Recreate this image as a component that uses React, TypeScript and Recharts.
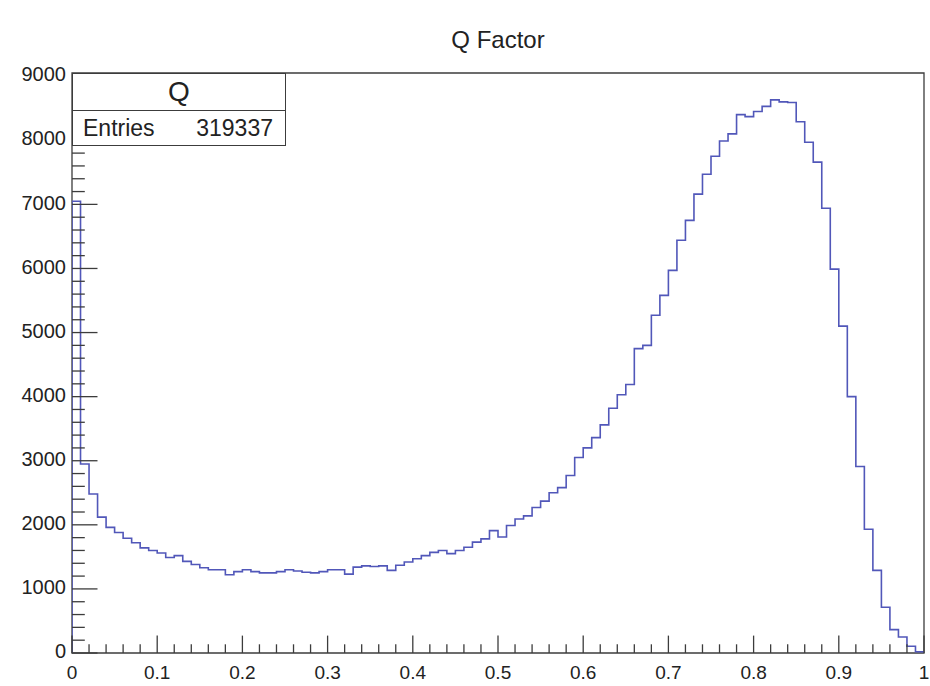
import React from "react";
import { ComposedChart, Line, XAxis, YAxis, ReferenceArea } from "recharts";

// Histogram definition: 100 bins from 0 to 1
const nBins = 100;
const xMin = 0;
const xMax = 1;

const binCounts = [
  7050, 2950, 2480, 2120, 1960, 1880, 1790, 1720, 1640, 1600,
  1560, 1490, 1520, 1430, 1380, 1330, 1300, 1300, 1220, 1270,
  1300, 1270, 1250, 1250, 1270, 1300, 1280, 1260, 1250, 1270,
  1300, 1300, 1230, 1340, 1360, 1350, 1360, 1290, 1370, 1420,
  1470, 1520, 1570, 1600, 1550, 1600, 1650, 1730, 1780, 1910,
  1810, 1990, 2090, 2140, 2270, 2370, 2500, 2580, 2770, 3050,
  3200, 3360, 3560, 3820, 4030, 4190, 4750, 4800, 5270, 5580,
  5970, 6440, 6750, 7160, 7470, 7750, 7990, 8100, 8400, 8370,
  8450, 8530, 8630, 8600, 8590, 8290, 7970, 7660, 6940, 5990,
  5100, 4000, 2910, 1930, 1290, 715, 365, 250, 105, 20,
];

const xMajorTicks = [0, 0.1, 0.2, 0.3, 0.4, 0.5, 0.6, 0.7, 0.8, 0.9, 1];
const xTickLabels = ["0", "0.1", "0.2", "0.3", "0.4", "0.5", "0.6", "0.7", "0.8", "0.9", "1"];
const xAllTicks = [
  0, 0.02, 0.04, 0.06, 0.08, 0.1, 0.12, 0.14, 0.16, 0.18,
  0.2, 0.22, 0.24, 0.26, 0.28, 0.3, 0.32, 0.34, 0.36, 0.38,
  0.4, 0.42, 0.44, 0.46, 0.48, 0.5, 0.52, 0.54, 0.56, 0.58,
  0.6, 0.62, 0.64, 0.66, 0.68, 0.7, 0.72, 0.74, 0.76, 0.78,
  0.8, 0.82, 0.84, 0.86, 0.88, 0.9, 0.92, 0.94, 0.96, 0.98, 1,
];

const yMajorTicks = [0, 1000, 2000, 3000, 4000, 5000, 6000, 7000, 8000, 9000];
const yTickLabels = ["0", "1000", "2000", "3000", "4000", "5000", "6000", "7000", "8000", "9000"];
const yAllTicks = [
  0, 200, 400, 600, 800, 1000, 1200, 1400, 1600, 1800,
  2000, 2200, 2400, 2600, 2800, 3000, 3200, 3400, 3600, 3800,
  4000, 4200, 4400, 4600, 4800, 5000, 5200, 5400, 5600, 5800,
  6000, 6200, 6400, 6600, 6800, 7000, 7200, 7400, 7600, 7800,
  8000, 8200, 8400, 8600, 8800, 9000,
];
const yMax = 9050;

const title = "Q Factor";
const statsName = "Q";
const statsEntriesLabel = "Entries";
const statsEntries = "319337";

// outline points at bin edges
const data: { x: number; y: number }[] = [{ x: xMin, y: 0 }];
binCounts.forEach((c, i) => {
  data.push({ x: xMin + ((xMax - xMin) * i) / nBins, y: c });
});
data.push({ x: xMax, y: binCounts[nBins - 1] });
data.push({ x: xMax, y: 0 });

const FONT = "'Liberation Sans', Arial, Helvetica, sans-serif";
const AXIS_COLOR = "#3c3c3c";
const LINE_COLOR = "#5157b9";

const XTick = (props: any) => {
  const { x, y, payload } = props;
  const v = payload.value;
  const idx = xMajorTicks.findIndex((t) => Math.abs(t - v) < 1e-9);
  const major = idx >= 0;
  return (
    <g>
      <line x1={x} x2={x} y1={y} y2={y - (major ? 17.4 : 8.7)} stroke={AXIS_COLOR} strokeWidth={1.3} />
      {major && (
        <text x={x} y={y + 26} textAnchor="middle" fontSize={19} fontFamily={FONT} fill="#222">
          {xTickLabels[idx]}
        </text>
      )}
    </g>
  );
};

const YTick = (props: any) => {
  const { x, y, payload } = props;
  const v = payload.value;
  const idx = yMajorTicks.findIndex((t) => Math.abs(t - v) < 1e-9);
  const major = idx >= 0;
  return (
    <g>
      <line x1={x} x2={x + (major ? 25.5 : 12.8)} y1={y} y2={y} stroke={AXIS_COLOR} strokeWidth={1.3} />
      {major && (
        <text x={x - 6} y={y - 2} dy="0.36em" textAnchor="end" fontSize={20} fontFamily={FONT} fill="#222">
          {yTickLabels[idx]}
        </text>
      )}
    </g>
  );
};

export default function App() {
  return (
    <div style={{ position: "absolute", left: 0, top: 0, width: 930, height: 686, background: "#fff", fontFamily: FONT }}>
      <ComposedChart
        width={930}
        height={686}
        data={data}
        margin={{ top: 73, right: 6, bottom: 0, left: 0 }}
      >
        <XAxis
          type="number"
          dataKey="x"
          domain={[xMin, xMax]}
          ticks={xAllTicks}
          interval={0}
          tick={<XTick />}
          tickLine={false}
          axisLine={false}
          tickSize={0}
          tickMargin={0}
          height={33}
          allowDataOverflow
        />
        <YAxis
          type="number"
          domain={[0, yMax]}
          ticks={yAllTicks}
          interval={0}
          tick={<YTick />}
          tickLine={false}
          axisLine={false}
          tickSize={0}
          tickMargin={0}
          width={72}
          allowDataOverflow
        />
        <Line
          type="stepAfter"
          dataKey="y"
          stroke={LINE_COLOR}
          strokeWidth={1.6}
          dot={false}
          activeDot={false}
          isAnimationActive={false}
        />
        <ReferenceArea x1={xMin} x2={xMax} y1={0} y2={yMax} fill="none" stroke={AXIS_COLOR} strokeWidth={1.3} ifOverflow="visible" />
      </ComposedChart>
      <div
        style={{
          position: "absolute",
          left: 0,
          top: 26,
          width: 996,
          textAlign: "center",
          fontSize: 24,
          color: "#222",
          lineHeight: "28px",
        }}
      >
        {title}
      </div>
      <div
        style={{
          position: "absolute",
          left: 72,
          top: 73,
          width: 214,
          height: 73,
          border: `1.3px solid ${AXIS_COLOR}`,
          background: "#fff",
          boxSizing: "border-box",
          color: "#222",
        }}
      >
        <div
          style={{
            height: 36,
            borderBottom: `1.3px solid ${AXIS_COLOR}`,
            textAlign: "center",
            fontSize: 28,
            lineHeight: "36px",
          }}
        >
          {statsName}
        </div>
        <div style={{ display: "flex", justifyContent: "space-between", padding: "0 12px 0 10px", fontSize: 23, lineHeight: "35px" }}>
          <span>{statsEntriesLabel}</span>
          <span>{statsEntries}</span>
        </div>
      </div>
    </div>
  );
}
